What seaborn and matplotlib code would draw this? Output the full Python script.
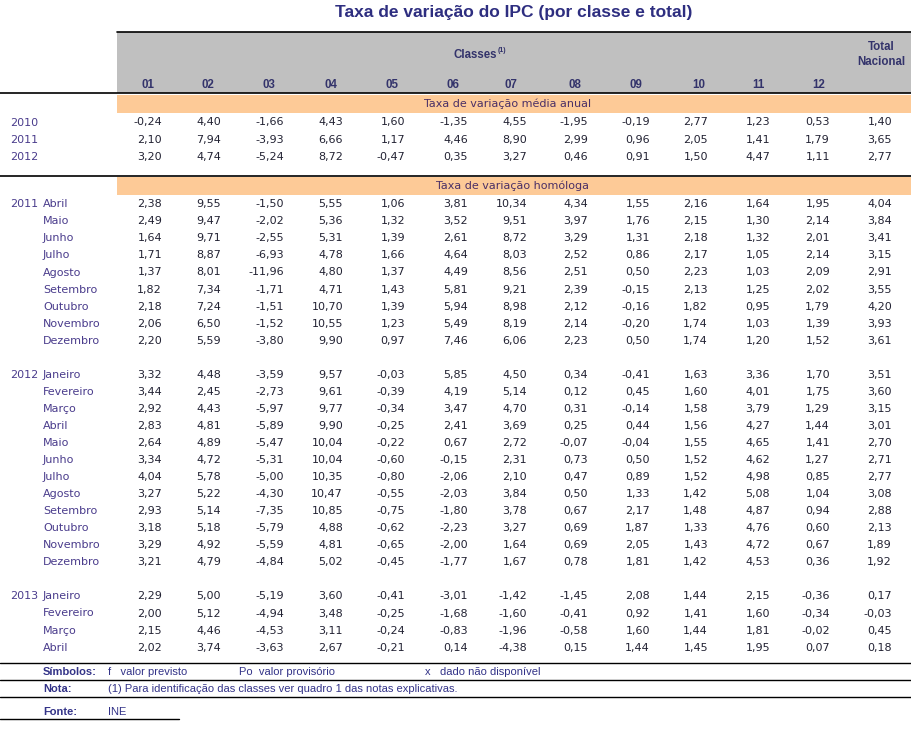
import matplotlib
matplotlib.use("Agg")
import matplotlib.pyplot as plt
from matplotlib import font_manager
import seaborn as sns

# --- data -------------------------------------------------------------
classes = ["01", "02", "03", "04", "05", "06", "07", "08", "09", "10", "11", "12"]

annual_years = ["2010", "2011", "2012"]
annual = [
    [-0.24, 4.40, -1.66, 4.43, 1.60, -1.35, 4.55, -1.95, -0.19, 2.77, 1.23, 0.53, 1.40],
    [2.10, 7.94, -3.93, 6.66, 1.17, 4.46, 8.90, 2.99, 0.96, 2.05, 1.41, 1.79, 3.65],
    [3.20, 4.74, -5.24, 8.72, -0.47, 0.35, 3.27, 0.46, 0.91, 1.50, 4.47, 1.11, 2.77],
]

months_2011 = ["Abril", "Maio", "Junho", "Julho", "Agosto", "Setembro", "Outubro", "Novembro", "Dezembro"]
hom_2011 = [
    [2.38, 9.55, -1.50, 5.55, 1.06, 3.81, 10.34, 4.34, 1.55, 2.16, 1.64, 1.95, 4.04],
    [2.49, 9.47, -2.02, 5.36, 1.32, 3.52, 9.51, 3.97, 1.76, 2.15, 1.30, 2.14, 3.84],
    [1.64, 9.71, -2.55, 5.31, 1.39, 2.61, 8.72, 3.29, 1.31, 2.18, 1.32, 2.01, 3.41],
    [1.71, 8.87, -6.93, 4.78, 1.66, 4.64, 8.03, 2.52, 0.86, 2.17, 1.05, 2.14, 3.15],
    [1.37, 8.01, -11.96, 4.80, 1.37, 4.49, 8.56, 2.51, 0.50, 2.23, 1.03, 2.09, 2.91],
    [1.82, 7.34, -1.71, 4.71, 1.43, 5.81, 9.21, 2.39, -0.15, 2.13, 1.25, 2.02, 3.55],
    [2.18, 7.24, -1.51, 10.70, 1.39, 5.94, 8.98, 2.12, -0.16, 1.82, 0.95, 1.79, 4.20],
    [2.06, 6.50, -1.52, 10.55, 1.23, 5.49, 8.19, 2.14, -0.20, 1.74, 1.03, 1.39, 3.93],
    [2.20, 5.59, -3.80, 9.90, 0.97, 7.46, 6.06, 2.23, 0.50, 1.74, 1.20, 1.52, 3.61],
]

months_2012 = ["Janeiro", "Fevereiro", "Março", "Abril", "Maio", "Junho", "Julho", "Agosto",
               "Setembro", "Outubro", "Novembro", "Dezembro"]
hom_2012 = [
    [3.32, 4.48, -3.59, 9.57, -0.03, 5.85, 4.50, 0.34, -0.41, 1.63, 3.36, 1.70, 3.51],
    [3.44, 2.45, -2.73, 9.61, -0.39, 4.19, 5.14, 0.12, 0.45, 1.60, 4.01, 1.75, 3.60],
    [2.92, 4.43, -5.97, 9.77, -0.34, 3.47, 4.70, 0.31, -0.14, 1.58, 3.79, 1.29, 3.15],
    [2.83, 4.81, -5.89, 9.90, -0.25, 2.41, 3.69, 0.25, 0.44, 1.56, 4.27, 1.44, 3.01],
    [2.64, 4.89, -5.47, 10.04, -0.22, 0.67, 2.72, -0.07, -0.04, 1.55, 4.65, 1.41, 2.70],
    [3.34, 4.72, -5.31, 10.04, -0.60, -0.15, 2.31, 0.73, 0.50, 1.52, 4.62, 1.27, 2.71],
    [4.04, 5.78, -5.00, 10.35, -0.80, -2.06, 2.10, 0.47, 0.89, 1.52, 4.98, 0.85, 2.77],
    [3.27, 5.22, -4.30, 10.47, -0.55, -2.03, 3.84, 0.50, 1.33, 1.42, 5.08, 1.04, 3.08],
    [2.93, 5.14, -7.35, 10.85, -0.75, -1.80, 3.78, 0.67, 2.17, 1.48, 4.87, 0.94, 2.88],
    [3.18, 5.18, -5.79, 4.88, -0.62, -2.23, 3.27, 0.69, 1.87, 1.33, 4.76, 0.60, 2.13],
    [3.29, 4.92, -5.59, 4.81, -0.65, -2.00, 1.64, 0.69, 2.05, 1.43, 4.72, 0.67, 1.89],
    [3.21, 4.79, -4.84, 5.02, -0.45, -1.77, 1.67, 0.78, 1.81, 1.42, 4.53, 0.36, 1.92],
]

months_2013 = ["Janeiro", "Fevereiro", "Março", "Abril"]
hom_2013 = [
    [2.29, 5.00, -5.19, 3.60, -0.41, -3.01, -1.42, -1.45, 2.08, 1.44, 2.15, -0.36, 0.17],
    [2.00, 5.12, -4.94, 3.48, -0.25, -1.68, -1.60, -0.41, 0.92, 1.41, 1.60, -0.34, -0.03],
    [2.15, 4.46, -4.53, 3.11, -0.24, -0.83, -1.96, -0.58, 1.60, 1.44, 1.81, -0.02, 0.45],
    [2.02, 3.74, -3.63, 2.67, -0.21, 0.14, -4.38, 0.15, 1.44, 1.45, 1.95, 0.07, 0.18],
]

# --- layout (pixels) --------------------------------------------------
col_right = [162, 221, 284, 343, 405, 468, 527, 588, 650, 708, 770, 830, 892]
head_x = [148, 208, 269, 331, 392, 453, 511, 575, 636, 699, 758, 819]
row_h = 17.05

sns.set_theme(style="white")
names = {f.name for f in font_manager.fontManager.ttflist}
tahoma = "Liberation Sans" if "Liberation Sans" in names else "DejaVu Sans"
plt.rcParams["font.family"] = ["DejaVu Sans"]

title_col = "#2e2e80"
head_col = "#33336b"
label_col = "#4a3c8c"
num_col = "#222233"
band_col = "#4a2f66"
foot_col = "#333388"
orange = "#fdca97"
grey = "#c0c0c0"

fig = plt.figure(figsize=(9.11, 7.44), dpi=100)
ax = fig.add_axes([0, 0, 1, 1])
ax.set_xlim(0, 911)
ax.set_ylim(744, 0)
ax.axis("off")


def fmt(v):
    return f"{v:.2f}".replace(".", ",")


def fit(t, width_px):
    # scale a text so that it spans the given width in pixels
    r = fig.canvas.get_renderer()
    w = t.get_window_extent(renderer=r).width
    t.set_fontsize(t.get_fontsize() * width_px / w)
    return t.get_fontsize()


# title
title = ax.text(513.5, 13, "Taxa de variação do IPC (por classe e total)", ha="center", va="center",
                fontsize=13, fontweight="bold", color=title_col, family=tahoma)
fit(title, 357)

# header block
hsize = 8.3
ax.add_patch(plt.Rectangle((117, 32), 794, 61, color=grey, lw=0))
ax.plot([117, 911], [32, 32], color="black", lw=1.2)
ax.text(497, 55, "Classes", ha="right", va="center", fontsize=hsize, fontweight="bold",
        color=head_col, family=tahoma)
ax.text(498, 51, "(1)", ha="left", va="center", fontsize=hsize * 0.6, fontweight="bold",
        color=head_col, family=tahoma)
ax.text(881, 47, "Total", ha="center", va="center", fontsize=hsize, fontweight="bold",
        color=head_col, family=tahoma)
ax.text(881, 62, "Nacional", ha="center", va="center", fontsize=hsize, fontweight="bold",
        color=head_col, family=tahoma)
for x, c in zip(head_x, classes):
    ax.text(x, 85, c, ha="center", va="center", fontsize=hsize, fontweight="bold",
            color=head_col, family=tahoma)
ax.plot([0, 911], [93, 93], color="black", lw=1.2)

# band 1 + annual rows
ax.add_patch(plt.Rectangle((117, 94.5), 794, 18, color=orange, lw=0))
ax.text(508, 103.5, "Taxa de variação média anual", ha="center", va="center",
        fontsize=8, color=band_col)


def draw_row(y, values):
    for x, v in zip(col_right, values):
        ax.text(x, y, fmt(v), ha="right", va="center", fontsize=8, color=num_col)


for i, (yr, vals) in enumerate(zip(annual_years, annual)):
    y = 122.5 + i * row_h
    ax.text(10, y, yr, ha="left", va="center", fontsize=8, color=label_col)
    draw_row(y, vals)

# band 2 + year-on-year rows
ax.plot([0, 911], [176, 176], color="black", lw=1.2)
ax.add_patch(plt.Rectangle((117, 177), 794, 18, color=orange, lw=0))
ax.text(512, 186, "Taxa de variação homóloga", ha="center", va="center",
        fontsize=8, color=band_col)

row = 0
for yr, months, block in [("2011", months_2011, hom_2011),
                          ("2012", months_2012, hom_2012),
                          ("2013", months_2013, hom_2013)]:
    for j, (m, vals) in enumerate(zip(months, block)):
        y = 204.3 + row * row_h
        if j == 0:
            ax.text(10, y, yr, ha="left", va="center", fontsize=8, color=label_col)
        ax.text(43, y, m, ha="left", va="center", fontsize=8, color=label_col)
        draw_row(y, vals)
        row += 1
    row += 1

# footer
for yl in [663, 679.5, 696.5]:
    ax.plot([0, 911], [yl, yl], color="black", lw=1.0)
ax.plot([0, 179], [719, 719], color="black", lw=1.0)

note = ax.text(108, 689, "(1) Para identificação das classes ver quadro 1 das notas explicativas.",
               ha="left", va="center", fontsize=7, color=foot_col, family=tahoma)
fsize = fit(note, 349)

for yy, lab in [(672, "Símbolos:"), (689, "Nota:"), (712, "Fonte:")]:
    ax.text(43, yy, lab, ha="left", va="center", fontsize=8, fontweight="bold",
            color=foot_col, family=tahoma)
ax.text(108, 672, "f   valor previsto", ha="left", va="center", fontsize=fsize,
        color=foot_col, family=tahoma)
ax.text(239, 672, "Po  valor provisório", ha="left", va="center", fontsize=fsize,
        color=foot_col, family=tahoma)
ax.text(425, 672, "x   dado não disponível", ha="left", va="center", fontsize=fsize,
        color=foot_col, family=tahoma)
ax.text(108, 712, "INE", ha="left", va="center", fontsize=fsize, color=foot_col, family=tahoma)

fig.savefig("out.png", dpi=100)
